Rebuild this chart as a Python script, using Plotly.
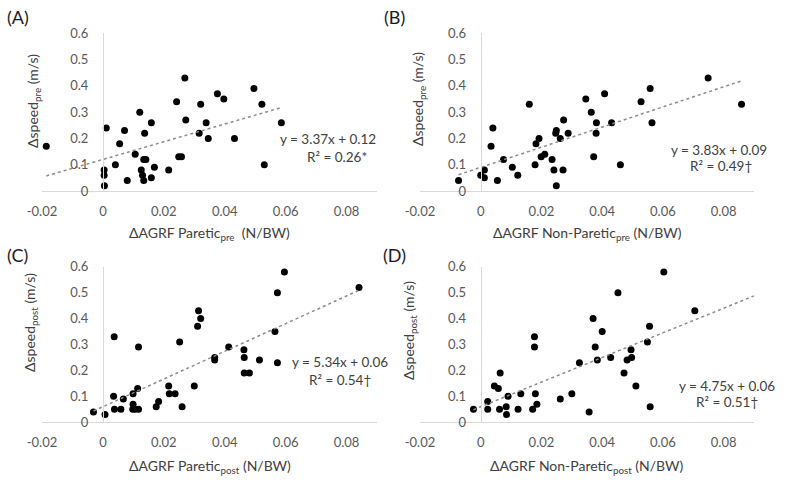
import plotly.graph_objects as go

# ---------------- data ----------------
a_x = [-0.0186, 0.0004, 0.0004, 0.0005, 0.0011, 0.0041, 0.0055, 0.0071, 0.0080, 0.0106,
       0.0121, 0.0126, 0.0130, 0.0134, 0.0134, 0.0137, 0.0141, 0.0159, 0.0159, 0.0169,
       0.0216, 0.0242, 0.0249, 0.0258, 0.0269, 0.0272, 0.0316, 0.0321, 0.0339, 0.0346,
       0.0376, 0.0397, 0.0432, 0.0496, 0.0522, 0.0530, 0.0586]
a_y = [0.17, 0.08, 0.06, 0.02, 0.24, 0.10, 0.18, 0.23, 0.04, 0.14,
       0.30, 0.08, 0.06, 0.12, 0.04, 0.22, 0.12, 0.05, 0.26, 0.09,
       0.08, 0.34, 0.13, 0.13, 0.43, 0.27, 0.22, 0.33, 0.26, 0.20,
       0.37, 0.35, 0.20, 0.39, 0.33, 0.10, 0.26]

b_x = [-0.0073, 0.0000, 0.0012, 0.0012, 0.0034, 0.0040, 0.0055, 0.0075, 0.0104, 0.0122,
       0.0160, 0.0179, 0.0182, 0.0192, 0.0199, 0.0211, 0.0235, 0.0241, 0.0247, 0.0249,
       0.0249, 0.0262, 0.0271, 0.0273, 0.0288, 0.0346, 0.0364, 0.0372, 0.0380, 0.0381,
       0.0408, 0.0431, 0.0460, 0.0528, 0.0558, 0.0564, 0.0749, 0.0859]
b_y = [0.04, 0.06, 0.05, 0.08, 0.17, 0.24, 0.04, 0.12, 0.09, 0.06,
       0.33, 0.10, 0.18, 0.20, 0.13, 0.14, 0.12, 0.08, 0.22, 0.23,
       0.02, 0.20, 0.08, 0.27, 0.22, 0.35, 0.30, 0.13, 0.22, 0.26,
       0.37, 0.26, 0.10, 0.34, 0.39, 0.26, 0.43, 0.33]

c_x = [-0.0031, 0.0007, 0.0035, 0.0037, 0.0038, 0.0059, 0.0067, 0.0099, 0.0099, 0.0098,
       0.0106, 0.0114, 0.0117, 0.0117, 0.0175, 0.0183, 0.0216, 0.0218, 0.0237, 0.0252,
       0.0260, 0.0300, 0.0311, 0.0314, 0.0321, 0.0367, 0.0367, 0.0413, 0.0463, 0.0464,
       0.0464, 0.0481, 0.0514, 0.0565, 0.0573, 0.0573, 0.0596, 0.0841]
c_y = [0.04, 0.03, 0.10, 0.33, 0.05, 0.05, 0.09, 0.07, 0.11, 0.05,
       0.05, 0.13, 0.29, 0.05, 0.06, 0.08, 0.14, 0.11, 0.11, 0.31,
       0.06, 0.14, 0.37, 0.43, 0.40, 0.25, 0.24, 0.29, 0.28, 0.25,
       0.19, 0.19, 0.24, 0.35, 0.23, 0.50, 0.58, 0.52]

d_x = [-0.0024, 0.0023, 0.0023, 0.0045, 0.0058, 0.0062, 0.0064, 0.0084, 0.0085, 0.0090,
       0.0123, 0.0132, 0.0171, 0.0177, 0.0177, 0.0180, 0.0185, 0.0262, 0.0300, 0.0325,
       0.0357, 0.0370, 0.0377, 0.0384, 0.0400, 0.0428, 0.0452, 0.0472, 0.0482, 0.0495,
       0.0497, 0.0511, 0.0549, 0.0556, 0.0558, 0.0603, 0.0705]
d_y = [0.05, 0.08, 0.05, 0.14, 0.13, 0.05, 0.19, 0.06, 0.03, 0.10,
       0.05, 0.11, 0.05, 0.33, 0.29, 0.11, 0.07, 0.09, 0.11, 0.23,
       0.04, 0.40, 0.29, 0.24, 0.35, 0.25, 0.50, 0.19, 0.24, 0.28,
       0.25, 0.14, 0.31, 0.37, 0.06, 0.58, 0.43]

slopes = [3.37, 3.83, 5.34, 4.75]
intercepts = [0.12, 0.09, 0.06, 0.06]
eq_texts = ["y = 3.37x + 0.12", "y = 3.83x + 0.09", "y = 5.34x + 0.06", "y = 4.75x + 0.06"]
r2_texts = ["R² = 0.26*", "R² = 0.49†", "R² = 0.54†", "R² = 0.51†"]
panel_labels = ["(A)", "(B)", "(C)", "(D)"]
x_titles = ["ΔAGRF Paretic<sub>pre</sub>  (N/BW)", "ΔAGRF Non-Paretic<sub>pre</sub> (N/BW)",
            "ΔAGRF Paretic<sub>post</sub> (N/BW)", "ΔAGRF Non-Paretic<sub>post</sub> (N/BW)"]
y_titles = ["Δspeed<sub>pre</sub> (m/s)", "Δspeed<sub>pre</sub> (m/s)",
            "Δspeed<sub>post</sub> (m/s)", "Δspeed<sub>post</sub> (m/s)"]
x_tickvals = [-0.02, 0, 0.02, 0.04, 0.06, 0.08]
x_ticktext = ["-0.02", "0", "0.02", "0.04", "0.06", "0.08"]
y_tickvals = [0, 0.1, 0.2, 0.3, 0.4, 0.5, 0.6]
y_ticktext = ["0", "0.1", "0.2", "0.3", "0.4", "0.5", "0.6"]
extend_to_axis = [False, False, False, True]

# ---------------- layout ----------------
W, H = 785, 482
XR = [-0.02, 0.09]
YR = [0, 0.6]
xdoms = [[42 / W, 377 / W], [420 / W, 754 / W], [42 / W, 377 / W], [420 / W, 754 / W]]
ydoms = [[1 - 191 / H, 1 - 33.3 / H], [1 - 191 / H, 1 - 33.3 / H],
         [1 - 422.3 / H, 1 - 266.7 / H], [1 - 422.3 / H, 1 - 266.7 / H]]
eq_pos = [(0.074, 0.196), (0.0784, 0.156), (0.078, 0.233), (0.0810, 0.14)]
r2_pos = [(0.0767, 0.130), (0.0791, 0.096), (0.078, 0.163), (0.0810, 0.078)]
label_pos = [(17.5 / W, 1 - 17 / H), (394 / W, 1 - 17 / H), (17.5 / W, 1 - 255 / H), (394 / W, 1 - 255 / H)]
ytitle_pos = [(33 / W, 1 - 101 / H), (419 / W, 1 - 99 / H), (30 / W, 1 - 323 / H), (409 / W, 1 - 331 / H)]
xtitle_y = [1 - 233 / H, 1 - 233 / H, 1 - 466 / H, 1 - 466 / H]

FONT = "Lato, 'Open Sans', sans-serif"
TICK_COLOR = "#595959"
TEXT_COLOR = "#404040"
AXIS_LINE = "#d9d9d9"

xs = [a_x, b_x, c_x, d_x]
ys = [a_y, b_y, c_y, d_y]

fig = go.Figure()
annotations = []
layout_axes = {}

for i in range(4):
    n = "" if i == 0 else str(i + 1)
    xa, ya = "x" + n, "y" + n
    fig.add_trace(go.Scatter(x=xs[i], y=ys[i], mode="markers", xaxis=xa, yaxis=ya,
                             marker=dict(color="black", size=7), showlegend=False,
                             hoverinfo="x+y"))
    x0 = min(xs[i])
    x1 = XR[1] if extend_to_axis[i] else max(xs[i])
    fig.add_trace(go.Scatter(x=[x0, x1],
                             y=[slopes[i] * x0 + intercepts[i], slopes[i] * x1 + intercepts[i]],
                             mode="lines", xaxis=xa, yaxis=ya,
                             line=dict(color="#8c8c8c", width=1.5, dash="dot"),
                             showlegend=False, hoverinfo="skip"))
    xpos0 = xdoms[i][0] + (0 - XR[0]) / (XR[1] - XR[0]) * (xdoms[i][1] - xdoms[i][0])
    layout_axes["xaxis" + n] = dict(
        domain=xdoms[i], range=XR, anchor=ya, showline=True, linecolor=AXIS_LINE, linewidth=1,
        showgrid=False, zeroline=False, tickvals=x_tickvals, ticktext=x_ticktext, ticks="",
        ticklabelstandoff=8, tickfont=dict(family=FONT, size=13, color=TICK_COLOR),
        fixedrange=True, automargin=False)
    layout_axes["yaxis" + n] = dict(
        domain=ydoms[i], range=YR, anchor="free", position=xpos0, showline=True,
        linecolor=AXIS_LINE, linewidth=1, showgrid=False, zeroline=False,
        tickvals=y_tickvals, ticktext=y_ticktext, ticks="", ticklabelstandoff=12,
        tickfont=dict(family=FONT, size=13, color=TICK_COLOR), fixedrange=True,
        automargin=False)
    annotations.append(dict(text=eq_texts[i], x=eq_pos[i][0], y=eq_pos[i][1], xref=xa, yref=ya,
                            showarrow=False, xanchor="center", yanchor="middle",
                            font=dict(family=FONT, size=13.5, color=TEXT_COLOR)))
    annotations.append(dict(text=r2_texts[i], x=r2_pos[i][0], y=r2_pos[i][1], xref=xa, yref=ya,
                            showarrow=False, xanchor="center", yanchor="middle",
                            font=dict(family=FONT, size=13.5, color=TEXT_COLOR)))
    annotations.append(dict(text=panel_labels[i], x=label_pos[i][0], y=label_pos[i][1],
                            xref="paper", yref="paper", showarrow=False, xanchor="center",
                            yanchor="middle", font=dict(family=FONT, size=18, color="#1a1a1a")))
    annotations.append(dict(text=x_titles[i], x=sum(xdoms[i]) / 2, y=xtitle_y[i],
                            xref="paper", yref="paper", showarrow=False, xanchor="center",
                            yanchor="middle", font=dict(family=FONT, size=14, color=TEXT_COLOR)))
    annotations.append(dict(text=y_titles[i], x=ytitle_pos[i][0], y=ytitle_pos[i][1],
                            xref="paper", yref="paper", showarrow=False, xanchor="center",
                            yanchor="middle", textangle=-90,
                            font=dict(family=FONT, size=14, color=TEXT_COLOR)))

fig.update_layout(width=W, height=H, margin=dict(l=0, r=0, t=0, b=0, autoexpand=False),
                  paper_bgcolor="white", plot_bgcolor="white", template="none",
                  annotations=annotations, showlegend=False, **layout_axes)

fig.write_html("out.html", config={"displayModeBar": False},
               post_script="document.body.style.margin='0';")
